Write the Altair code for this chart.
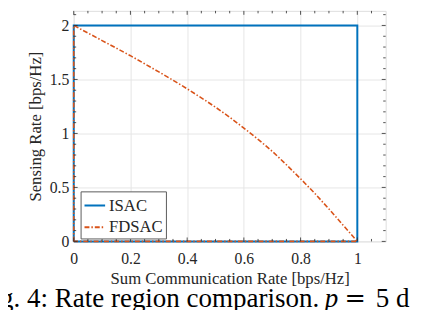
import altair as alt
import pandas as pd

FONT = "Liberation Serif"
INK = "#262626"

# ---- data ----
series = ["ISAC", "FDSAC"]
colors = ["#0072BD", "#D95319"]

isac_comm = [0, 0, 1, 1, 0]
isac_sens = [0, 2, 2, 0, 0]

fdsac_comm = [0, 0, 0.05, 0.1, 0.15, 0.2, 0.25, 0.3, 0.35, 0.4, 0.45, 0.5,
              0.55, 0.6, 0.65, 0.7, 0.75, 0.8, 0.85, 0.9, 0.95, 1.0, 0]
fdsac_sens = [0, 2.00, 1.93, 1.86, 1.79, 1.72, 1.645, 1.57, 1.493, 1.413, 1.33, 1.243,
              1.15, 1.05, 0.945, 0.835, 0.71, 0.58, 0.445, 0.30, 0.15, 0.00, 0]

x_ticks = [0, 0.2, 0.4, 0.6, 0.8, 1]
y_ticks = [0, 0.5, 1, 1.5, 2]
x_minor = [0.05, 0.1, 0.15, 0.25, 0.3, 0.35, 0.45, 0.5, 0.55, 0.65, 0.7, 0.75,
           0.85, 0.9, 0.95, 1.05]
y_minor = [0.1, 0.2, 0.3, 0.4, 0.6, 0.7, 0.8, 0.9, 1.1, 1.2, 1.3, 1.4,
           1.6, 1.7, 1.8, 1.9, 2.1]

x_title = "Sum Communication Rate [bps/Hz]"
y_title = "Sensing Rate [bps/Hz]"
caption_main = "Fig. 4: Rate region comparison."
caption_var = "p"
caption_eq = "="
caption_rest = "5 d"

# ---- build tables ----
rows = []
for i, (c, s) in enumerate(zip(isac_comm, isac_sens)):
    rows.append({"series": "ISAC", "comm": c, "sens": s, "ord": i})
for i, (c, s) in enumerate(zip(fdsac_comm, fdsac_sens)):
    rows.append({"series": "FDSAC", "comm": c, "sens": s, "ord": i})
df = pd.DataFrame(rows)

W, H = 318, 235
xscale = alt.Scale(domain=[0, 1.1], nice=False, zero=False)
yscale = alt.Scale(domain=[0, 2.135], nice=False, zero=False)

legend = alt.Legend(
    title=None, orient="none", legendX=7, legendY=184, direction="vertical",
    symbolType="stroke", symbolSize=441, symbolStrokeWidth=2,
    labelFont=FONT, labelFontSize=17, labelColor=INK, labelOffset=3,
    padding=3, rowPadding=2, strokeColor="#5a5a5a", fillColor="white",
    cornerRadius=0,
)

xaxis = alt.Axis(values=x_ticks, format="~g", grid=True, gridColor="#e6e6e6", gridWidth=1,
                 ticks=False, domain=False, labelFont=FONT, labelFontSize=16,
                 labelColor=INK, labelPadding=10, labelFlush=False, labelOverlap=False,
                 title=x_title, titleFont=FONT, titleFontSize=17,
                 titleFontWeight="normal", titleColor=INK, titlePadding=4)
yaxis = alt.Axis(values=y_ticks, format="~g", grid=True, gridColor="#e6e6e6", gridWidth=1,
                 ticks=False, domain=False, labelFont=FONT, labelFontSize=16,
                 labelColor=INK, labelPadding=5, labelFlush=False, labelOverlap=False,
                 title=y_title, titleFont=FONT, titleFontSize=17,
                 titleFontWeight="normal", titleColor=INK, titlePadding=5)

color_enc = alt.Color("series:N", scale=alt.Scale(domain=series, range=colors),
                      sort=series, legend=legend)
dash_enc = alt.StrokeDash("series:N",
                          scale=alt.Scale(domain=series, range=[[1, 0], [5, 2, 1.5, 2]]),
                          sort=series, legend=legend)

base = alt.Chart(df)
isac = base.transform_filter(alt.datum.series == "ISAC").mark_line(strokeWidth=2).encode(
    x=alt.X("comm:Q", scale=xscale, axis=xaxis),
    y=alt.Y("sens:Q", scale=yscale, axis=yaxis),
    color=color_enc, strokeDash=dash_enc, order="ord:Q",
)
fdsac = base.transform_filter(alt.datum.series == "FDSAC").mark_line(strokeWidth=1.6).encode(
    x=alt.X("comm:Q", scale=xscale, axis=xaxis),
    y=alt.Y("sens:Q", scale=yscale, axis=yaxis),
    color=color_enc, strokeDash=dash_enc, order="ord:Q",
)

def xticks(vals, length, top):
    d = pd.DataFrame({"v": vals})
    y0, y1 = (0, length) if top else (H, H - length)
    return alt.Chart(d).mark_rule(color=INK, strokeWidth=0.8).encode(
        x=alt.X("v:Q", scale=xscale, axis=xaxis), y=alt.value(y0), y2=alt.value(y1))

def yticks(vals, length, right):
    d = pd.DataFrame({"v": vals})
    x0, x1 = (W, W - length) if right else (0, length)
    return alt.Chart(d).mark_rule(color=INK, strokeWidth=0.8).encode(
        y=alt.Y("v:Q", scale=yscale, axis=yaxis), x=alt.value(x0), x2=alt.value(x1))

tick_layers = [
    xticks(x_ticks, 4, False), xticks(x_ticks, 4, True),
    xticks(x_minor, 2.5, False), xticks(x_minor, 2.5, True),
    yticks(y_ticks, 4, False), yticks(y_ticks, 4, True),
    yticks(y_minor, 2.5, False), yticks(y_minor, 2.5, True),
]

CAP_Y = 302

def caption(txt, xpos, italic=False, font=FONT, size=27.5, align="left"):
    return alt.Chart(pd.DataFrame({"t": [txt]})).mark_text(
        align=align, baseline="alphabetic", font=font, fontSize=size,
        fontStyle="italic" if italic else "normal", color="black",
    ).encode(x=alt.value(xpos), y=alt.value(CAP_Y), text="t:N")

captions = [
    caption(caption_main, -98),
    caption(caption_var, 331 - 75, italic=True),
    caption(caption_eq, 362 - 75, font="DejaVu Serif", size=26, align="center"),
    caption(caption_rest, 383 - 75),
]

chart = alt.layer(isac, fdsac, *tick_layers, *captions).properties(
    width=W, height=H,
    autosize=alt.AutoSizeParams(type="none"),
    padding={"left": 67, "top": 0, "right": 35, "bottom": 67},
).configure_view(stroke="#9a9a9a", strokeWidth=1).configure(background="white")

chart.save("out.html", embed_options={"renderer": "svg", "actions": False})
